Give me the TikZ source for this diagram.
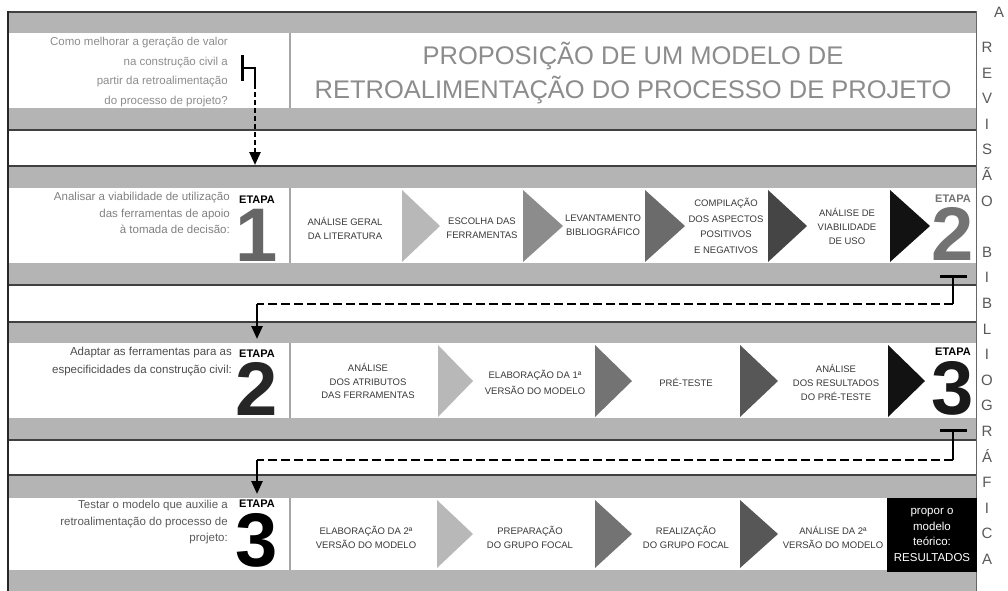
\documentclass[tikz,border=0pt]{standalone}
\usepackage{fontspec}
\setmainfont{Liberation Sans}
\usetikzlibrary{arrows.meta, positioning}
\definecolor{bandgray}{HTML}{B4B4B4}

\begin{document}
\begin{tikzpicture}[
    x=1pt, y=-1pt,
    >={Triangle[length=13pt, width=11pt]},
    every node/.style={inner sep=0pt},
    band/.style ={fill=bandgray},
    rule/.style ={draw=black!75, line width=1.6pt},
    quest/.style={anchor=north east, align=right},
    etapa/.style={font=\bfseries\fontsize{11}{11}\selectfont},
    digit/.style={font=\bfseries\fontsize{76}{76}\selectfont},
    task/.style ={align=center, text=black!78, font=\fontsize{9.5}{14}\selectfont},
    result/.style={fill=black, text=white, align=center, minimum width=90pt,
                  minimum height=74pt, font=\fontsize{11.5}{15.5}\selectfont},
    flow/.style={->, line width=2.5pt},
    link/.style={line width=2.5pt, dash pattern=on 9pt off 4pt},
    tbar/.style={line width=3pt},
]
\useasboundingbox (0,0) rectangle (1008,590);

% gray bands of the four rows
\foreach \t/\a/\b/\e in {12/33/108/130, 166/188/263/285, 322/343/418/440, 475/498/570/592} {
  \fill[band] (8,\t) rectangle (976,\a);
  \fill[band] (8,\b) rectangle (976,\e);
  \draw[rule] (8,\t) -- (976,\t);
  \draw[rule] (8,\e) -- (976,\e);
  \draw[black!35, line width=1.2pt] (290,\a) -- (290,\b);
}
\draw[black!85, line width=2pt] (8,11) -- (8,592);
\draw[black!60, line width=1pt] (976,11) -- (976,592);

% chevrons
\foreach \x/\tip/\c in {402/440/black!28, 523/563/black!45, 645/685/black!58, 768/807/black!73, 890/930/black!93}
  \fill[\c] (\x,190) -- (\tip,226) -- (\x,262) -- cycle;
\foreach \x/\tip/\c in {438/473/black!28, 595/632/black!55, 740/778/black!66, 888/925/black!93}
  \fill[\c] (\x,345) -- (\tip,381) -- (\x,417) -- cycle;
\foreach \x/\tip/\c in {437/473/black!28, 595/632/black!55, 740/778/black!66}
  \fill[\c] (\x,500) -- (\tip,534) -- (\x,568) -- cycle;

% title and questions
\node[font=\fontsize{25.5}{34}\selectfont, text=black!45, align=center] (ttl) at (633,73)
  {PROPOSIÇÃO DE UM MODELO DE\\RETROALIMENTAÇÃO DO PROCESSO DE PROJETO};
\node[quest, text=black!45, font=\fontsize{11.5}{19.5}\selectfont] (q0) at (228,37)
  {Como melhorar a geração de valor\\na construção civil a\\partir da retroalimentação\\do processo de projeto?};
\node[quest, text=black!50, font=\fontsize{11.5}{16.5}\selectfont] (q1) at (230,192)
  {Analisar a viabilidade de utilização\\das ferramentas de apoio\\à tomada de decisão:};
\node[quest, text=black!70, font=\fontsize{11.5}{18}\selectfont] (q2) at (232,347)
  {Adaptar as ferramentas para as\\especificidades da construção civil:};
\node[quest, text=black!65, font=\fontsize{11.5}{16.5}\selectfont] (q3) at (228,500)
  {Testar o modelo que auxilie a\\retroalimentação do processo de\\projeto:};

% etapas
\node[digit, text=black!60] (n1) at (257,235) {1};
\node[etapa, above=5pt of n1] (et1) {ETAPA};
\node[digit, text=black!55] (n1r) at (953,234) {2};
\node[etapa, text=black!55, above=5pt of n1r] (et1r) {ETAPA};
\node[digit, text=black!85] (n2) at (257,389) {2};
\node[etapa, above=5pt of n2] (et2) {ETAPA};
\node[digit, text=black!90] (n2r) at (953,388) {3};
\node[etapa, above=5pt of n2r] (et2r) {ETAPA};
\node[digit] (n3) at (257,540) {3};
\node[etapa, above=5pt of n3] (et3) {ETAPA};

% tasks
\node[task] (a1) at (345,228) {ANÁLISE GERAL\\DA LITERATURA};
\node[task] (a2) at (482,228) {ESCOLHA DAS\\FERRAMENTAS};
\node[task] (a3) at (603,225) {LEVANTAMENTO\\BIBLIOGRÁFICO};
\node[task, font=\fontsize{9.5}{15.5}\selectfont] (a4) at (726,226) {COMPILAÇÃO\\DOS ASPECTOS\\POSITIVOS\\E NEGATIVOS};
\node[task] (a5) at (847,226) {ANÁLISE DE\\VIABILIDADE\\DE USO};
\node[task, font=\fontsize{9.5}{13.5}\selectfont] (b1) at (368,381) {ANÁLISE\\DOS ATRIBUTOS\\DAS FERRAMENTAS};
\node[task, font=\fontsize{9.5}{16}\selectfont] (b2) at (535,382) {ELABORAÇÃO DA 1ª\\VERSÃO DO MODELO};
\node[task] (b3) at (686,382) {PRÉ-TESTE};
\node[task] (b4) at (836,382) {ANÁLISE\\DOS RESULTADOS\\DO PRÉ-TESTE};
\node[task] (c1) at (366,537) {ELABORAÇÃO DA 2ª\\VERSÃO DO MODELO};
\node[task] (c2) at (530,537) {PREPARAÇÃO\\DO GRUPO FOCAL};
\node[task] (c3) at (686,537) {REALIZAÇÃO\\DO GRUPO FOCAL};
\node[task] (c4) at (833,537) {ANÁLISE DA 2ª\\VERSÃO DO MODELO};
\node[result] (res) at (932,535) {propor o\\modelo\\teórico:\\RESULTADOS};

% side column
\node[font=\fontsize{15}{15}\selectfont, text=black!65] (sideA) at (999,12) {A};
\node[anchor=north, align=center, text=black!65, font=\fontsize{15}{25.6}\selectfont] (side) at (987,42)
  {R\\E\\V\\I\\S\\Ã\\O\\[25.6pt]B\\I\\B\\L\\I\\O\\G\\R\\Á\\F\\I\\C\\A};

% connectors
\coordinate (h0a) at (242,55);
\coordinate (h0b) at (242,81);
\coordinate (h0)  at (242,68);
\coordinate (h0c) at (255,84);
\coordinate (h0d) at (255,150);
\coordinate (in1) at (255,165);
\draw[tbar] (h0a) -- (h0b);
\draw[line width=2.5pt] (h0) -| (h0c);
\draw[line width=2.5pt, dash pattern=on 5pt off 3pt] (h0c) -- (h0d);
\draw[flow] (h0d) -- (in1);

\coordinate (t1a) at (940,276);
\coordinate (t1b) at (967,276);
\coordinate (t1)  at (953,276);
\coordinate (t1c) at (953,304);
\coordinate (t1d) at (257,304);
\coordinate (in2) at (257,339);
\draw[tbar] (t1a) -- (t1b);
\draw[line width=2.5pt] (t1) -- (t1c);
\draw[link] (t1c) -- (t1d);
\draw[flow] (t1d) -- (in2);

\coordinate (t2a) at (940,430);
\coordinate (t2b) at (967,430);
\coordinate (t2)  at (953,430);
\coordinate (t2c) at (953,460);
\coordinate (t2d) at (257,460);
\coordinate (in3) at (257,494);
\draw[tbar] (t2a) -- (t2b);
\draw[line width=2.5pt] (t2) -- (t2c);
\draw[link] (t2c) -- (t2d);
\draw[flow] (t2d) -- (in3);
\end{tikzpicture}
\end{document}
